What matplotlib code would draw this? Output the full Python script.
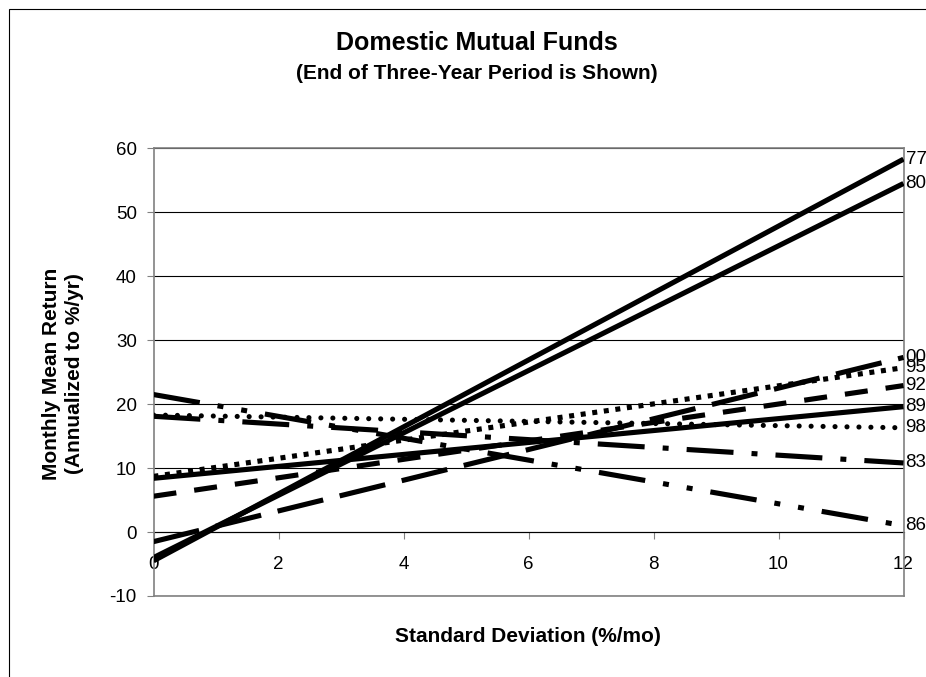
import matplotlib.pyplot as plt
from matplotlib.patches import Rectangle

# ===============================
# DATA
# ===============================
periods = ["77", "80", "00", "95", "92", "89", "98", "83", "86"]
std_dev = [0, 12]
ret_start = [-4.5, -4.0, -1.5, 8.7, 5.6, 8.4, 18.3, 18.1, 21.5]
ret_end = [58.3, 54.5, 27.3, 25.7, 22.9, 19.6, 16.3, 10.8, 1.0]

y_ticks = [-10, 0, 10, 20, 30, 40, 50, 60]
x_ticks = [0, 2, 4, 6, 8, 10, 12]

# ===============================
# LINE STYLES (dash lengths in points)
# ===============================
line_styles = {
    "77": ("-", "butt"),
    "80": ("-", "butt"),
    "89": ("-", "butt"),
    "00": ((0, (33.8, 12.2)), "butt"),
    "92": ((0, (16.6, 13.0)), "butt"),
    "95": ((0, (3.6, 4.8)), "butt"),
    "98": ((0, (0.01, 8.6)), "round"),
    "83": ((0, (33.8, 13.0, 4.3, 13.0)), "butt"),
    "86": ((0, (33.8, 13.0, 4.3, 13.0, 4.3, 13.0)), "butt"),
}

plt.rcParams["font.family"] = ["Liberation Sans", "DejaVu Sans"]
plt.rcParams["lines.scale_dashes"] = False
plt.rcParams["axes.unicode_minus"] = False

W, H = 926, 677
fig = plt.figure(figsize=(W / 100, H / 100), dpi=100)
ax = fig.add_axes([153.5 / W, 1 - 596 / H, 750 / W, (596 - 148.3) / H])

for p, s, e in zip(periods, ret_start, ret_end):
    ls, cap = line_styles[p]
    ax.plot(std_dev, [s, e], color="black", lw=3.7, linestyle=ls,
            dash_capstyle=cap, solid_capstyle="butt", zorder=3)
    ax.annotate(p, xy=(std_dev[-1], e), xytext=(1.5, 0),
                textcoords="offset points", ha="left", va="center",
                fontsize=13.5, annotation_clip=False)

ax.set_xlim(0, 12)
ax.set_ylim(-10, 60)
ax.set_yticks(y_ticks)
ax.yaxis.grid(True, color="black", lw=0.8)
ax.tick_params(axis="y", direction="out", length=5, width=0.8,
               color="#808080", pad=7, labelsize=13.5)
ax.tick_params(axis="x", bottom=False, labelbottom=False)
for sp in ax.spines.values():
    sp.set_color("#808080")
    sp.set_linewidth(1.2)

# x axis crosses at y = 0
sec = ax.secondary_xaxis((0 - y_ticks[0]) / (y_ticks[-1] - y_ticks[0]))
sec.set_xticks(x_ticks)
sec.spines["bottom"].set_color("black")
sec.spines["bottom"].set_linewidth(0.8)
sec.tick_params(direction="out", length=5, width=0.8, color="#808080",
                pad=12, labelsize=13.5)

# ===============================
# TEXT
# ===============================
fig.text(477 / W, 1 - 50 / H, "Domestic Mutual Funds", ha="center",
         va="baseline", fontsize=18, fontweight="bold")
fig.text(477 / W, 1 - 79 / H, "(End of Three-Year Period is Shown)",
         ha="center", va="baseline", fontsize=15, fontweight="bold")
fig.text(63 / W, 1 - 373.5 / H, "Monthly Mean Return\n(Annualized to %/yr)",
         rotation=90, ha="center", va="center", multialignment="center",
         fontsize=15, fontweight="bold", linespacing=1.3)
fig.text(527.5 / W, 1 - 641.7 / H, "Standard Deviation (%/mo)", ha="center",
         va="baseline", fontsize=15, fontweight="bold")

# outer chart border (runs off the bottom and right of the picture)
fig.add_artist(Rectangle((8.5 / W, -1), 2, 2 - 8.5 / H,
                         transform=fig.transFigure, fill=False,
                         edgecolor="black", lw=0.8))

fig.savefig("out.png", dpi=100)
